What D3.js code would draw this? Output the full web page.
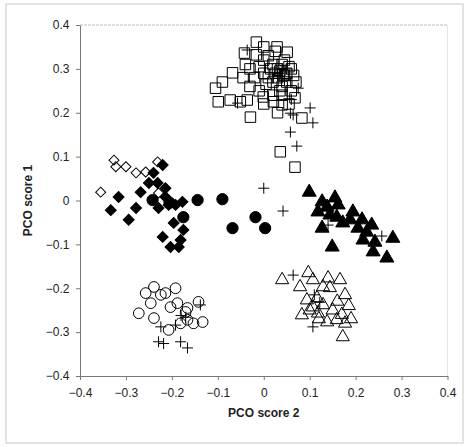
<!DOCTYPE html>
<meta charset="utf-8">
<script src="https://d3js.org/d3.v7.min.js"></script>
<style>
  body { margin: 0; background: #fff; }
  text { font-family: "Liberation Sans", Arial, sans-serif; }
</style>
<div id="chart"></div>
<script>
// ---- data (PCO score 2, PCO score 1) ----
const openSquares = [
  [-0.016,0.361],[-0.042,0.336],[-0.016,0.332],[0.029,0.350],[0.051,0.338],[-0.068,0.291],
  [-0.090,0.270],[-0.105,0.256],[-0.099,0.225],[-0.073,0.229],[-0.051,0.225],[-0.036,0.229],
  [-0.029,0.190],[-0.001,0.236],[0.021,0.225],[0.040,0.218],[0.068,0.234],[0.083,0.188],
  [0.036,0.111],[0.068,0.076],[0.000,0.320],[0.010,0.330],[0.020,0.310],[0.030,0.300],
  [0.040,0.310],[0.050,0.290],[0.060,0.300],[0.000,0.290],[0.010,0.280],[0.020,0.270],
  [0.030,0.280],[0.040,0.260],[0.050,0.270],[-0.030,0.300],[-0.020,0.280],[-0.030,0.260],
  [-0.010,0.250],[0.020,0.240],[0.040,0.240],[0.060,0.250],[0.070,0.270],[-0.040,0.310],
  [0.000,0.350],[0.045,0.320],[0.025,0.340],[0.055,0.220],[0.030,0.200],[0.000,0.220],
  [0.035,0.295],[0.045,0.285],[0.055,0.305],[0.025,0.290],[0.015,0.300],[-0.010,0.305],
  [0.005,0.265],[0.035,0.250],[-0.045,0.280],[0.065,0.285]
];
const plusPoints = [
  [-0.036,0.343],[0.075,0.256],[0.058,0.199],[0.064,0.195],[0.101,0.211],[0.107,0.177],
  [0.058,0.156],[0.072,0.124],[-0.057,0.222],[0.035,0.290],[0.045,0.275],[0.050,0.300],
  [0.040,0.300],[0.030,0.285],[0.060,0.230],
  [0.000,0.028],[0.042,-0.024],[0.140,-0.056],[0.257,-0.081],
  [0.064,-0.170],[0.107,-0.288],[0.122,-0.232],[0.110,-0.215],
  [-0.224,-0.288],[-0.192,-0.284],[-0.170,-0.266],[-0.229,-0.322],[-0.218,-0.326],
  [-0.181,-0.322],[-0.166,-0.336],[-0.138,-0.238],[-0.180,-0.262]
];
const openDiamonds = [
  [-0.326,0.092],[-0.322,0.077],[-0.300,0.077],[-0.278,0.063],[-0.231,0.088],
  [-0.355,0.019],[-0.229,0.017],[-0.257,0.065]
];
const filledDiamonds = [
  [-0.316,0.008],[-0.333,-0.022],[-0.278,-0.017],[-0.268,0.019],[-0.294,-0.044],
  [-0.250,0.040],[-0.240,0.063],[-0.220,0.081],[-0.214,0.028],[-0.229,-0.017],
  [-0.207,-0.010],[-0.192,-0.010],[-0.177,-0.003],[-0.196,-0.051],[-0.175,-0.067],
  [-0.181,-0.090],[-0.220,-0.083],[-0.203,-0.106],[-0.185,-0.106],[-0.214,0.008],
  [-0.231,0.040]
];
const filledCircles = [
  [-0.144,0.001],[-0.090,0.003],[-0.068,-0.063],[-0.018,-0.038],[0.003,-0.063],
  [-0.175,-0.038],[-0.242,0.001],[-0.205,-0.005]
];
const openCircles = [
  [-0.239,-0.197],[-0.192,-0.200],[-0.257,-0.211],[-0.224,-0.215],[-0.214,-0.211],
  [-0.246,-0.234],[-0.272,-0.257],[-0.203,-0.243],[-0.188,-0.234],[-0.166,-0.245],
  [-0.142,-0.231],[-0.239,-0.268],[-0.207,-0.295],[-0.181,-0.280],[-0.166,-0.272],
  [-0.153,-0.280],[-0.133,-0.277],[-0.170,-0.254]
];
const filledTriangles = [
  [0.099,0.019],[0.127,-0.003],[0.155,0.006],[0.162,-0.010],[0.118,-0.026],[0.144,-0.033],
  [0.159,-0.038],[0.127,-0.063],[0.149,-0.106],[0.194,-0.026],[0.188,-0.044],[0.214,-0.044],
  [0.205,-0.063],[0.235,-0.056],[0.224,-0.072],[0.216,-0.090],[0.242,-0.095],[0.238,-0.117],
  [0.281,-0.086],[0.268,-0.131],[0.172,-0.051],[0.138,-0.015]
];
const openTriangles = [
  [0.040,-0.181],[0.097,-0.165],[0.107,-0.181],[0.079,-0.197],[0.140,-0.177],[0.166,-0.181],
  [0.094,-0.227],[0.116,-0.222],[0.107,-0.243],[0.129,-0.238],[0.083,-0.261],[0.118,-0.257],
  [0.138,-0.277],[0.159,-0.272],[0.177,-0.280],[0.172,-0.311],[0.177,-0.215],[0.144,-0.199],
  [0.129,-0.197],[0.150,-0.250],[0.170,-0.260],[0.190,-0.270],[0.100,-0.250],[0.120,-0.270],
  [0.160,-0.230],[0.185,-0.240]
];
const ticks = [-0.4, -0.3, -0.2, -0.1, 0, 0.1, 0.2, 0.3, 0.4];

// ---- layout ----
const W = 469, H = 447;
const margin = {top: 25, right: 21, bottom: 71, left: 80};

const svg = d3.select("#chart").append("svg")
    .attr("width", W)
    .attr("height", H);

// outer frame
svg.append("rect")
    .attr("x", 6).attr("y", 4)
    .attr("width", W - 12).attr("height", H - 8)
    .attr("fill", "none")
    .attr("stroke", "#c8c8c8");

const x = d3.scaleLinear().domain([-0.4, 0.4]).range([margin.left, W - margin.right - 0.5]);
const y = d3.scaleLinear().domain([-0.4, 0.4]).range([H - margin.bottom, margin.top]);

// plot top/right borders (light)
svg.append("line")
    .attr("x1", x(-0.4)).attr("x2", x(0.4))
    .attr("y1", y(0.4)).attr("y2", y(0.4))
    .attr("stroke", "#bbb").attr("stroke-dasharray", "3,1");
svg.append("line")
    .attr("x1", x(0.4)).attr("x2", x(0.4))
    .attr("y1", y(0.4)).attr("y2", y(-0.4))
    .attr("stroke", "#e6e6e6");

const fmt = d => d === 0 ? "0" : d3.format(".1f")(d);

const xAxis = svg.append("g")
    .attr("transform", `translate(0,${y(-0.4)})`)
    .call(d3.axisBottom(x).tickValues(ticks).tickFormat(fmt).tickSize(4).tickSizeOuter(0));
const yAxis = svg.append("g")
    .attr("transform", `translate(${x(-0.4)},0)`)
    .call(d3.axisLeft(y).tickValues(ticks).tickFormat(fmt).tickSize(4).tickSizeOuter(0));

[xAxis, yAxis].forEach(a => {
  a.select(".domain").attr("stroke", "#777");
  a.selectAll(".tick line").attr("stroke", "#777");
  a.selectAll("text")
      .attr("font-family", "Liberation Sans, Arial, sans-serif")
      .attr("font-size", 12)
      .attr("fill", "#222");
});
xAxis.selectAll("text").attr("dy", "1.2em");
yAxis.selectAll("text").attr("dx", "-0.3em");

svg.append("text")
    .attr("x", (x(-0.4) + x(0.4)) / 2)
    .attr("y", 417)
    .attr("text-anchor", "middle")
    .attr("font-size", 12)
    .attr("font-weight", "bold")
    .attr("fill", "#222")
    .text("PCO score 2");

svg.append("text")
    .attr("transform", `translate(32,${y(0)}) rotate(-90)`)
    .attr("text-anchor", "middle")
    .attr("font-size", 12)
    .attr("font-weight", "bold")
    .attr("fill", "#222")
    .text("PCO score 1");

// ---- markers ----
const plusPath = size => {
  const r = size / 2, p = d3.path();
  p.moveTo(-r, 0); p.lineTo(r, 0);
  p.moveTo(0, -r); p.lineTo(0, r);
  return p.toString();
};

const groups = [
  {data: openSquares, d: d3.symbol(d3.symbolSquare, 110)(), fill: "none", rot: 0},
  {data: openCircles, d: d3.symbol(d3.symbolCircle, 90)(), fill: "none", rot: 0},
  {data: openTriangles, d: d3.symbol(d3.symbolTriangle, 75)(), fill: "none", rot: 0},
  {data: openDiamonds, d: d3.symbol(d3.symbolSquare, 50)(), fill: "none", rot: 45},
  {data: filledDiamonds, d: d3.symbol(d3.symbolSquare, 60)(), fill: "#000", rot: 45},
  {data: filledCircles, d: d3.symbol(d3.symbolCircle, 100)(), fill: "#000", rot: 0},
  {data: filledTriangles, d: d3.symbol(d3.symbolTriangle, 85)(), fill: "#000", rot: 0},
  {data: plusPoints, d: plusPath(11), fill: "none", rot: 0}
];

groups.forEach(g => {
  svg.append("g").selectAll("path")
    .data(g.data)
    .join("path")
      .attr("d", g.d)
      .attr("transform", p => `translate(${x(p[0])},${y(p[1])}) rotate(${g.rot})`)
      .attr("fill", g.fill)
      .attr("stroke", "#000")
      .attr("stroke-width", 1);
});
</script>
